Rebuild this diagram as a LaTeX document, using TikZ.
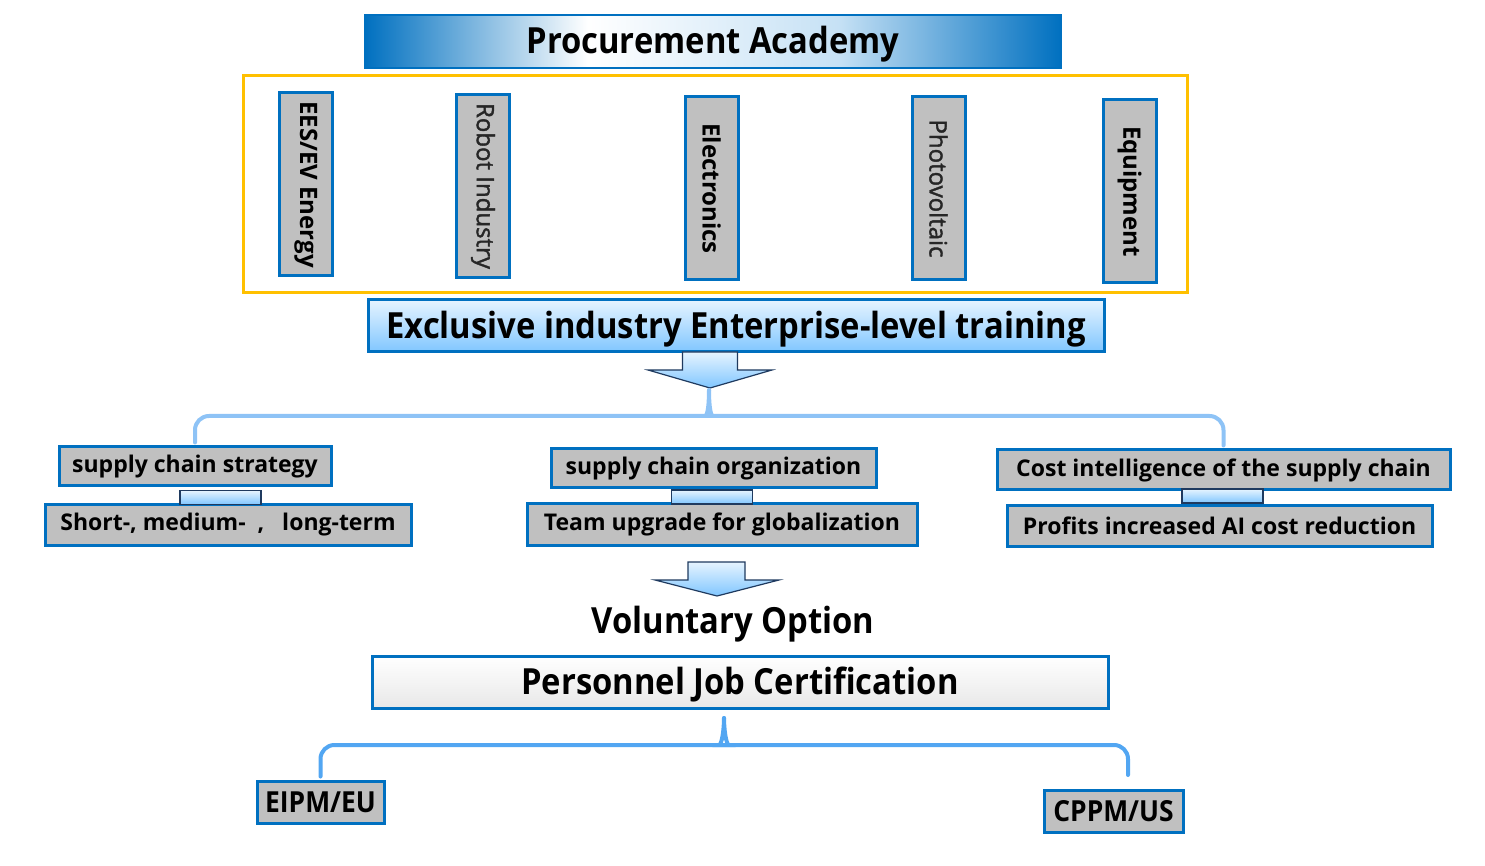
\documentclass[tikz,border=0pt]{standalone}
\usepackage{fontspec}
\setmainfont{Open Sans}
\newfontface\softface[FakeBold=1.6]{Open Sans}
\usepackage{xcolor}
\usetikzlibrary{positioning,calc}
\definecolor{EdgeC}{HTML}{0070C0}
\definecolor{FillC}{HTML}{C0C0C0}
\definecolor{FrameC}{HTML}{FFC000}
\definecolor{SkyTopC}{HTML}{E6F4FF}
\definecolor{SkyBotC}{HTML}{80C6FF}
\definecolor{BraceC}{HTML}{8EC3F6}
\definecolor{BraceDeepC}{HTML}{52A6F2}
\definecolor{LinkEdgeC}{HTML}{1F3A5F}
\definecolor{PaleC}{HTML}{C6E1F5}
\definecolor{SoftTextC}{HTML}{262626}
\pgfdeclarehorizontalshading{titlebar}{100bp}{color(0bp)=(EdgeC); color(25bp)=(EdgeC);
  color(41bp)=(white); color(59bp)=(PaleC); color(75bp)=(EdgeC); color(100bp)=(EdgeC)}
\newcommand{\narrow}[1]{\scalebox{0.91}[1]{#1}}

\begin{document}
\begin{tikzpicture}[x=0.5pt,y=-0.5pt,
  box/.style={draw=EdgeC,line width=1.5pt,fill=FillC,inner sep=0pt,
    font=\bfseries\fontsize{11.5}{13}\selectfont},
  sector/.style={box,rotate=-90,minimum width=91.5pt,minimum height=26.5pt,
    font=\bfseries\fontsize{12}{14}\selectfont},
  softsector/.style={sector,font=\softface\fontsize{12}{14}\selectfont,text=SoftTextC},
  certbox/.style={box,minimum height=21pt,font=\bfseries\fontsize{14.5}{16}\selectfont},
  link/.style={draw=LinkEdgeC,line width=0.8pt,top color=SkyTopC,bottom color=SkyBotC,
    minimum width=40.5pt,minimum height=7pt,inner sep=0pt},
  downarrow/.style={draw=LinkEdgeC,line width=0.6pt,top color=SkyTopC,bottom color=SkyBotC},
  brace/.style={line width=2pt,rounded corners=7pt,line cap=round,shorten <=1.5pt},
  headline/.style={font=\bfseries\fontsize{18}{20}\selectfont,inner sep=0pt}]

\useasboundingbox (0,0) rectangle (1485,866);

% ---------- academy and sectors ----------
\node[headline,draw=EdgeC,line width=1pt,shading=titlebar,minimum width=348pt,minimum height=26.5pt,
  text depth=1.5pt] (title) at (713,41.5) {\narrow{Procurement Academy}};
\node[draw=FrameC,line width=1.5pt,minimum width=472pt,minimum height=108.5pt] (sectors) at (715,184.5) {};
\node[sector]     (ees)   at (306,184.5)   {EES/EV Energy};
\node[softsector] (robot) at (483,186)     {Robot Industry};
\node[sector]     (elec)  at (711.5,188.5) {Electronics};
\node[softsector] (pv)    at (938.5,188.5) {Photovoltaic};
\node[sector]     (equip) at (1129.5,191.5) {Equipment};

% ---------- enterprise training ----------
\node[headline,draw=EdgeC,line width=1.5pt,top color=SkyTopC,bottom color=SkyBotC,
  minimum width=368pt,minimum height=26pt,text depth=1.5pt] (excl) at (736,326)
  {\narrow{Exclusive industry Enterprise-level training}};
\draw[downarrow] (682.5,352) -- (737.5,352) -- (737.5,370) -- (772,370) -- (710,388)
  -- (648,370) -- (682.5,370) -- cycle;
\coordinate (tip1) at (709,390);

\node[box,minimum width=136pt,minimum height=19.5pt]   (strat)  at (195,466.5)  {supply chain strategy};
\node[box,minimum width=183pt,minimum height=20pt]     (term)   at (228,525)    {Short-, medium-\ \ ,\ \ \ long-term};
\node[link] (link1) at (220.5,497.5) {};
\node[box,minimum width=162.5pt,minimum height=19.5pt] (org)    at (713.5,468.5) {supply chain organization};
\node[box,minimum width=195pt,minimum height=20.5pt]   (team)   at (722,524.5)  {Team upgrade for globalization};
\node[link] (link2) at (712,497) {};
\node[box,minimum width=226.5pt,minimum height=20pt]   (cost)   at (1223.5,470) {Cost intelligence of the supply chain};
\node[box,minimum width=212.5pt,minimum height=20pt]   (profit) at (1219.5,526) {Profits increased AI cost reduction};
\node[link] (link3) at (1222.5,496) {};

\draw[brace,BraceC] (strat.north) |- (699,416) to[out=0,in=-90] (tip1);
\draw[brace,BraceC] (cost.north) |- (719,416) to[out=180,in=-90] (tip1);

% ---------- certification ----------
\draw[downarrow] (688,562) -- (745,562) -- (745,580) -- (779,580) -- (717,596)
  -- (655,580) -- (688,580) -- cycle;
\node[headline] (option) at (733,624) {\narrow{Voluntary Option}};
\node[headline,draw=EdgeC,line width=1.5pt,top color=white,bottom color=black!9,
  minimum width=368pt,minimum height=26pt,text depth=1.5pt] (cert) at (740,682)
  {\narrow{Personnel Job Certification}};
\coordinate (tip2) at (724,718);
\coordinate (right2) at (1128,778);

\node[certbox,minimum width=63.5pt] (eipm) at (320.5,802) {\narrow{EIPM/EU}};
\node[certbox,minimum width=69.5pt] (cppm) at (1113.5,811) {\narrow{CPPM/US}};

\draw[brace,BraceDeepC] (eipm.north) |- (715,745) to[out=0,in=-90] (tip2);
\draw[brace,BraceDeepC] (right2) |- (733,745) to[out=180,in=-90] (tip2);
\end{tikzpicture}
\end{document}
